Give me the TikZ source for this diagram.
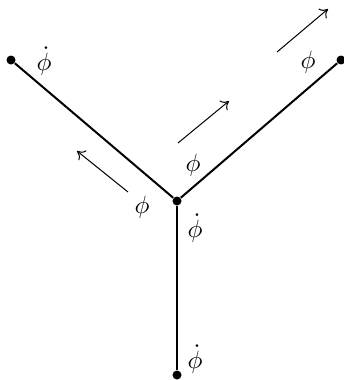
\documentclass[tikz,border=0pt]{standalone}
\usetikzlibrary{arrows.meta}
\begin{document}
\begin{tikzpicture}[x=0.4pt,y=-0.4pt,
  vert/.style={circle,fill=black,inner sep=0pt,minimum size=3.6pt},
  edge/.style={line width=0.8pt},
  flow/.style={line width=0.4pt,-{To[length=3pt,width=5pt]}},
  lab/.style={anchor=base,inner sep=0pt}]
\useasboundingbox (0,0) rectangle (343,380);
\node[vert] (C) at (177,201) {};
\node[vert] (L) at (11,60) {};
\node[vert] (R) at (341,60) {};
\node[vert] (B) at (177,375) {};
\draw[edge] (C) -- (L);
\draw[edge] (C) -- (R);
\draw[edge] (C) -- (B);
\coordinate (a1s) at (128,192);
\coordinate (a1e) at (77,151);
\coordinate (a2s) at (178,143);
\coordinate (a2e) at (229,101);
\coordinate (a3s) at (277,52);
\coordinate (a3e) at (328,9);
\draw[flow] (a1s) -- (a1e);
\draw[flow] (a2s) -- (a2e);
\draw[flow] (a3s) -- (a3e);
\node[lab] (t1) at (44,70) {$\dot\phi$};
\node[lab] (t2) at (142,213) {$\phi$};
\node[lab] (t3) at (193,171) {$\phi$};
\node[lab] (t4) at (195,237) {$\dot\phi$};
\node[lab] (t5) at (308,68) {$\phi$};
\node[lab] (t6) at (195,368) {$\dot\phi$};
\end{tikzpicture}
\end{document}
